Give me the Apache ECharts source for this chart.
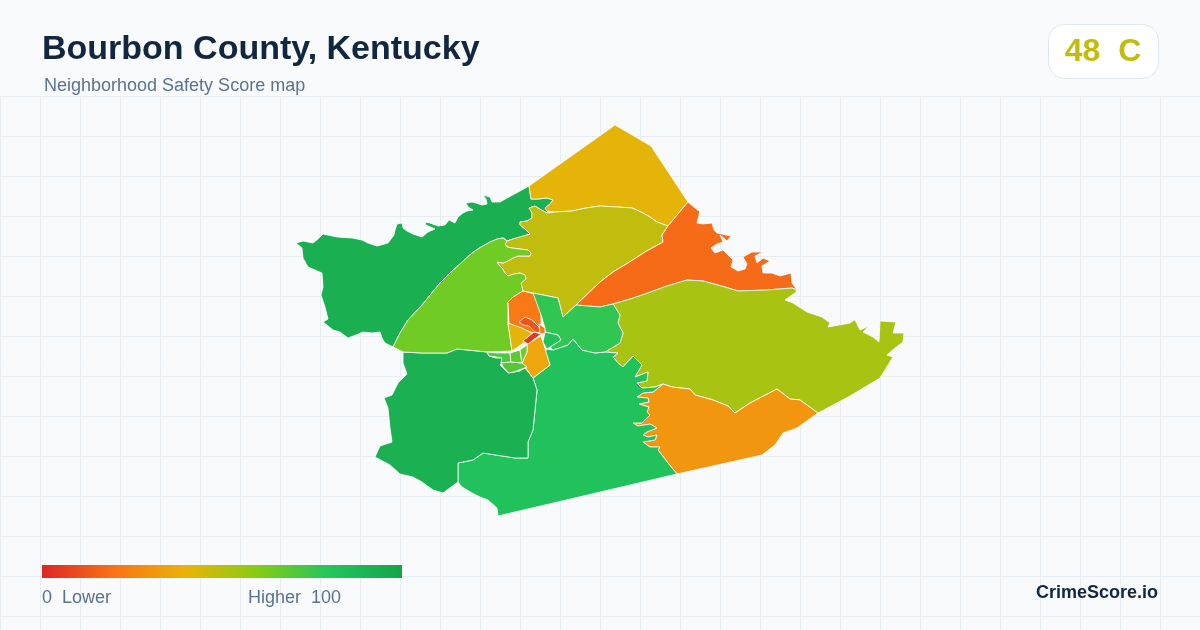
<!DOCTYPE html>
<html>
<head>
<meta charset="utf-8">
<title>Bourbon County, Kentucky</title>
<script src="https://cdn.jsdelivr.net/npm/echarts@6/dist/echarts.min.js"></script>
<style>
  html, body { margin: 0; padding: 0; background: #f8fafc; }
  #chart { width: 1200px; height: 630px; }
</style>
</head>
<body>
<div id="chart"></div>
<script>
// scores per tract
const tractNames = ['Northwest', 'North', 'North Central', 'Northeast', 'East', 'Southeast', 'South', 'Southwest',
  'West', 'Paris North', 'Paris West', 'Paris South', 'Paris SW 1', 'Paris SW 2', 'Paris SW 3', 'Paris SW 4',
  'Paris East', 'Paris SE', 'Downtown 1', 'Downtown 2', 'Downtown 3']
const tractScores = [93, 41, 48, 18, 53, 31, 82, 92, 64, 22, 41, 36, 71, 70, 68, 64, 77, 82, 12, 5, 22]

const legendStops = ['#dc2626', '#f97316', '#eab308', '#84cc16', '#22c55e', '#16a34a']

const nwCoast = [[529,186],[520,191],[507,198],[500,202],[492,202],[490,197],[483,195],[486,199],[487,204],[482,205],[476,203],[472,202],[466,203],[468,207],[473,210],[467,211],[463,213],[458,217],[455,223],[449,220],[445,225],[438,226],[430,223],[425,222],[426,225],[435,229],[428,232],[422,237],[413,234],[407,231],[403,228],[402,223],[397,224],[395,230],[394,235],[388,243],[377,246],[368,243],[362,240],[352,238],[337,237],[323,234],[318,239],[313,243],[303,241],[296,243],[302,248],[303,258],[308,267],[315,270],[322,273],[323,287],[321,295],[323,301],[325,307],[328,319],[323,322],[328,326],[333,330],[340,332],[348,338],[356,335],[363,332],[372,333],[380,332],[382,338],[385,343],[393,347]]
const nwLight = [[393,347],[400,333],[408,320],[422,305],[431,294],[440,283],[450,273],[461,263],[472,253],[481,247],[490,242],[497,239],[503,238]]
const nwOlive = [[507,241],[513,239],[520,237],[530,234],[525,229],[520,225],[520,222],[527,221],[532,218],[532,213],[529,208],[535,206],[538,208],[547,213],[555,212]]
const nwGold = [[555,212],[547,211],[545,208],[550,204],[553,200],[547,198],[538,199],[531,199],[529,186]]
const lightOlive = [[503,238],[507,241],[505,244],[507,247],[512,248],[520,249],[528,250],[531,253],[530,256],[523,256],[518,256],[513,258],[508,261],[503,263],[497,262],[499,265],[502,268],[505,273],[508,276],[514,274],[520,273],[525,275],[526,279],[521,283],[523,291]]
const goldCoast = [[529,186],[615,125],[651,146],[688,202]]
const goldOlive = [[555,212],[572,211],[586,208],[600,206],[617,207],[632,208],[641,212],[650,217],[657,222],[668,226]]
const oliveOrange = [[668,226],[662,235],[663,242],[645,252],[628,263],[613,272],[600,282],[576,305]]
const oliveCity = [[576,305],[563,317],[558,298],[533,293],[523,291]]
const orangeCoast = [[688,202],[695,208],[699,211],[704,208],[700,210],[699,215],[697,223],[703,224],[712,223],[714,230],[717,233],[731,236],[727,241],[720,235],[723,242],[717,244],[711,248],[715,253],[723,250],[733,260],[731,267],[738,271],[745,269],[747,264],[743,257],[752,252],[763,252],[755,256],[757,263],[763,258],[770,261],[762,266],[763,273],[772,273],[780,276],[791,273],[792,283],[797,290]]
const orangeEast = [[797,290],[792,288],[767,290],[738,291],[725,287],[703,281],[687,280],[667,286],[645,294],[630,299],[613,304]]
const orangeCity = [[613,304],[600,307],[576,305]]
const eastCoast = [[797,290],[795,293],[785,300],[793,303],[807,312],[822,317],[830,323],[828,327],[850,323],[860,316],[855,320],[860,330],[869,326],[863,332],[873,337],[879,342],[880,321],[896,322],[893,333],[904,333],[903,342],[895,348],[887,355],[893,357],[880,378],[850,396],[818,413]]
const eastSouth = [[818,413],[800,400],[790,399],[777,389],[750,403],[735,413],[728,406],[713,400],[695,395],[690,389],[672,387],[663,384]]
const eastGreen = [[663,384],[655,387],[642,388],[637,383],[647,381],[648,372],[635,377],[642,365],[633,356],[623,367],[618,363],[613,357],[618,353],[605,352]]
const eastCity = [[605,352],[620,343],[623,333],[618,323],[620,315],[615,307],[613,304]]
const seCoast = [[818,413],[808,420],[797,428],[783,433],[775,445],[762,455],[677,474]]
const seGreen = [[677,474],[668,463],[658,450],[660,447],[650,447],[643,442],[655,440],[657,435],[648,437],[643,435],[647,432],[657,428],[650,424],[638,426],[633,423],[642,423],[650,415],[647,412],[649,407],[639,404],[649,402],[648,398],[637,397],[643,393],[653,392],[663,384]]
const southCoast = [[677,474],[498,516],[497,508],[488,500],[480,497],[472,493],[462,487],[458,482]]
const southWest = [[458,482],[458,463],[473,460],[483,453],[515,458],[528,458],[528,442],[533,430],[536,400],[537,390],[533,378]]
const southTop = [[533,378],[550,365],[545,352],[547,349],[553,350],[568,345],[573,339],[582,350],[595,353],[605,352]]
const swNorth = [[403,352],[422,353],[447,353],[457,349],[487,352],[489,356],[496,358],[505,358],[500,365],[508,373],[520,371],[525,368],[533,378]]
const swCoast = [[458,482],[443,493],[433,490],[422,482],[413,477],[400,474],[390,465],[375,457],[380,446],[392,442],[390,428],[388,408],[384,398],[392,395],[398,383],[407,374],[403,363],[403,352]]
const lightBottom = [[512,351],[488,352],[457,349],[447,353],[422,353],[403,352],[393,347]]
const cityNorth = [[523,291],[513,297],[508,302],[508,323]]

const rev = a => a.slice().reverse()

const tractShapes = [
  [...nwCoast, ...nwLight, ...nwOlive, ...nwGold],
  [...goldCoast, ...rev(goldOlive), ...nwGold],
  [...goldOlive, ...oliveOrange, ...oliveCity, ...rev(lightOlive), ...nwOlive],
  [...orangeCoast, ...orangeEast, ...orangeCity, ...rev(oliveOrange)],
  [...rev(orangeEast), ...eastCoast, ...eastSouth, ...eastGreen, ...eastCity],
  [...rev(eastSouth), ...seCoast, ...seGreen],
  [...southTop, ...rev(eastGreen), ...rev(seGreen), ...southCoast, ...southWest],
  [...swNorth, ...rev(southWest), ...swCoast],
  [...nwLight, ...lightOlive, ...cityNorth, ...lightBottom],
  [[523,291],[535,294],[541,312],[541,325],[536,334],[509,324],[508,302],[513,297]],
  [[508,323],[522,328],[535,335],[512,351]],
  [[527,344],[541,336],[543,342],[550,365],[533,378],[522,363],[527,352]],
  [[487,352],[497,353],[510,353],[511,362],[501,363],[502,358],[496,357],[489,356]],
  [[501,363],[511,362],[522,363],[527,367],[514,372],[509,373],[504,368]],
  [[510,353],[520,350],[522,363],[511,362]],
  [[520,350],[527,345],[527,352],[522,363]],
  [...oliveCity.slice(0, 4), [541,315],[545,328],[545,332],[558,335],[561,340],[550,347],[553,350],[568,345],[573,339],[582,350],[595,353],[605,352], ...eastCity, ...orangeCity],
  [[545,332],[558,335],[561,340],[550,347],[547,349],[543,342]],
  [[519,322],[525,317],[532,320],[539,327],[541,333],[535,332],[529,326],[523,325]],
  [[541,334],[528,344],[523,341],[534,332]],
  [[539,324],[545,328],[545,333],[540,334]]
]

const bourbonGeo = {
  type: 'FeatureCollection',
  features: tractNames.map((name, i) => ({
    type: 'Feature',
    properties: { name },
    geometry: { type: 'Polygon', coordinates: [tractShapes[i]] }
  }))
}
echarts.registerMap('bourbon', bourbonGeo)

// faint background grid
const gridLines = []
for (let x = 0.5; x < 1200; x += 40) {
  gridLines.push({ type: 'line', silent: true, z: 0, shape: { x1: x, y1: 96.5, x2: x, y2: 630 }, style: { stroke: '#e7eef3', lineWidth: 1 } })
}
for (let y = 96.5; y < 630; y += 40) {
  gridLines.push({ type: 'line', silent: true, z: 0, shape: { x1: 0, y1: y, x2: 1200, y2: y }, style: { stroke: '#e7eef3', lineWidth: 1 } })
}

const chart = echarts.init(document.getElementById('chart'), null, { renderer: 'canvas' })
const labelColor = '#5b7290'
const fontFamily = '"Liberation Sans", Arial, sans-serif'

chart.setOption({
  backgroundColor: '#f8fafc',
  animation: false,
  title: [
    { text: 'Bourbon County, Kentucky', left: 42, top: 33, padding: 0, textStyle: { fontFamily, fontSize: 34, fontWeight: 'bold', color: '#11263f' } },
    { text: 'Neighborhood Safety Score map', left: 44, top: 77, padding: 0, textStyle: { fontFamily, fontSize: 18, fontWeight: 'normal', color: labelColor } }
  ],
  // colour scale for the tracts; the bar itself is drawn below so it keeps square corners
  visualMap: {
    type: 'continuous',
    show: false,
    min: 0,
    max: 100,
    inRange: { color: legendStops }
  },
  graphic: [
    ...gridLines,
    {
      type: 'rect', z: 10, silent: true,
      shape: { x: 42, y: 565, width: 360, height: 13 },
      style: {
        fill: {
          type: 'linear', x: 0, y: 0, x2: 1, y2: 0,
          colorStops: legendStops.map((color, i) => ({ offset: i / (legendStops.length - 1), color }))
        }
      }
    },
    { type: 'rect', z: 10, silent: true, shape: { x: 1048.5, y: 24.5, width: 110, height: 54, r: 16 }, style: { fill: '#ffffff', stroke: '#dfe6ee', lineWidth: 1 } },
    { type: 'text', z: 11, silent: true, x: 1103, y: 52, style: { text: '48  C', fontFamily, fontSize: 32, fontWeight: 'bold', fill: '#c1bd0e', align: 'center', verticalAlign: 'middle' } },
    { type: 'text', z: 11, silent: true, x: 42, y: 598, style: { text: '0  Lower', fontFamily, fontSize: 18, fill: labelColor, align: 'left', verticalAlign: 'middle' } },
    { type: 'text', z: 11, silent: true, x: 341, y: 598, style: { text: 'Higher  100', fontFamily, fontSize: 18, fill: labelColor, align: 'right', verticalAlign: 'middle' } },
    { type: 'text', z: 11, silent: true, x: 1158, y: 593, style: { text: 'CrimeScore.io', fontFamily, fontSize: 18, fontWeight: 'bold', fill: '#11263f', align: 'right', verticalAlign: 'middle' } }
  ],
  series: [{
    type: 'map',
    map: 'bourbon',
    projection: { project: p => p, unproject: p => p },
    left: 296,
    top: 125,
    width: 608,
    height: 391,
    roam: false,
    silent: true,
    label: { show: false },
    itemStyle: { borderColor: '#ffffff', borderWidth: 0.8 },
    emphasis: { disabled: true },
    select: { disabled: true },
    data: tractNames.map((name, i) => ({ name, value: tractScores[i] }))
  }]
})
</script>
</body>
</html>
